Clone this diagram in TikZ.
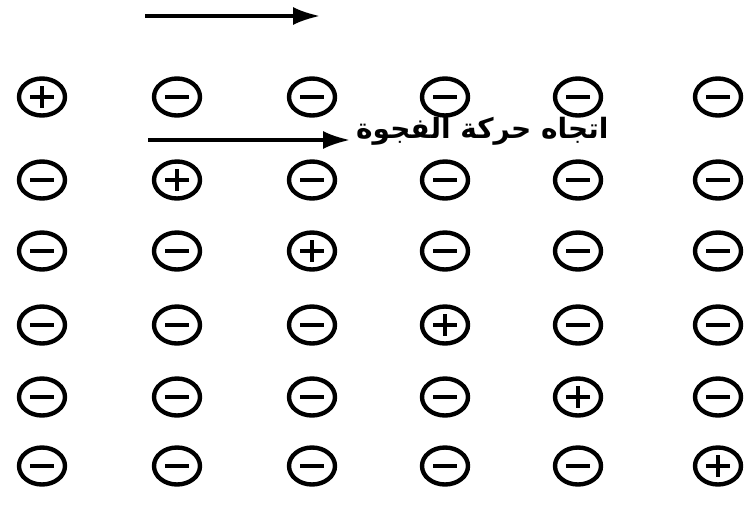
\documentclass[tikz,border=0pt]{standalone}
\usepackage{fontspec}
\usepackage{tikz}
\usetikzlibrary{positioning,arrows.meta,calc,shapes.geometric}
\newfontfamily\arabicfont[Script=Arabic]{DejaVu Sans}
\TeXXeTstate=1

\begin{document}
\begin{tikzpicture}[
    x=1pt, y=-1pt,
    charge/.style={draw, ellipse, line width=4.4pt, minimum width=46pt, minimum height=37pt, inner sep=0pt},
    electron/.style={charge, path picture={
        \draw[line width=4pt] ($(path picture bounding box.center)+(-12,0)$) -- ($(path picture bounding box.center)+(12,0)$);}},
    hole/.style={charge, path picture={
        \draw[line width=4pt] ($(path picture bounding box.center)+(-12,0)$) -- ($(path picture bounding box.center)+(12,0)$);
        \draw[line width=4pt] ($(path picture bounding box.center)+(0,-11)$) -- ($(path picture bounding box.center)+(0,11)$);}},
    arr/.style={-{Latex[length=27pt,width=18pt]}, line width=3.4pt}
  ]
  \useasboundingbox (0,0) rectangle (753,504);

  % lattice: hole moves along the diagonal
  \foreach \r/\yy in {1/97,2/180,3/251,4/325,5/397,6/466} {
    \foreach \c/\xx in {1/42,2/177,3/312,4/445,5/578,6/718} {
      \ifnum\r=\c
        \node[hole] (q\r\c) at (\xx,\yy) {};
      \else
        \node[electron] (q\r\c) at (\xx,\yy) {};
      \fi
    }
  }

  % arrows
  \coordinate (topS) at (145,16);
  \coordinate (topE) at (320,16);
  \draw[arr] (topS) -- (topE);

  \node[anchor=west, inner sep=0pt, font=\fontsize{28}{31}\selectfont\bfseries] (holetxt) at (356,131)
    {\arabicfont\beginR اتجاه حركة الفجوة\endR};
  \coordinate (midS) at (148,140);
  \draw[arr] (midS) -- ([xshift=-6pt]holetxt.west |- midS);
\end{tikzpicture}
\end{document}
